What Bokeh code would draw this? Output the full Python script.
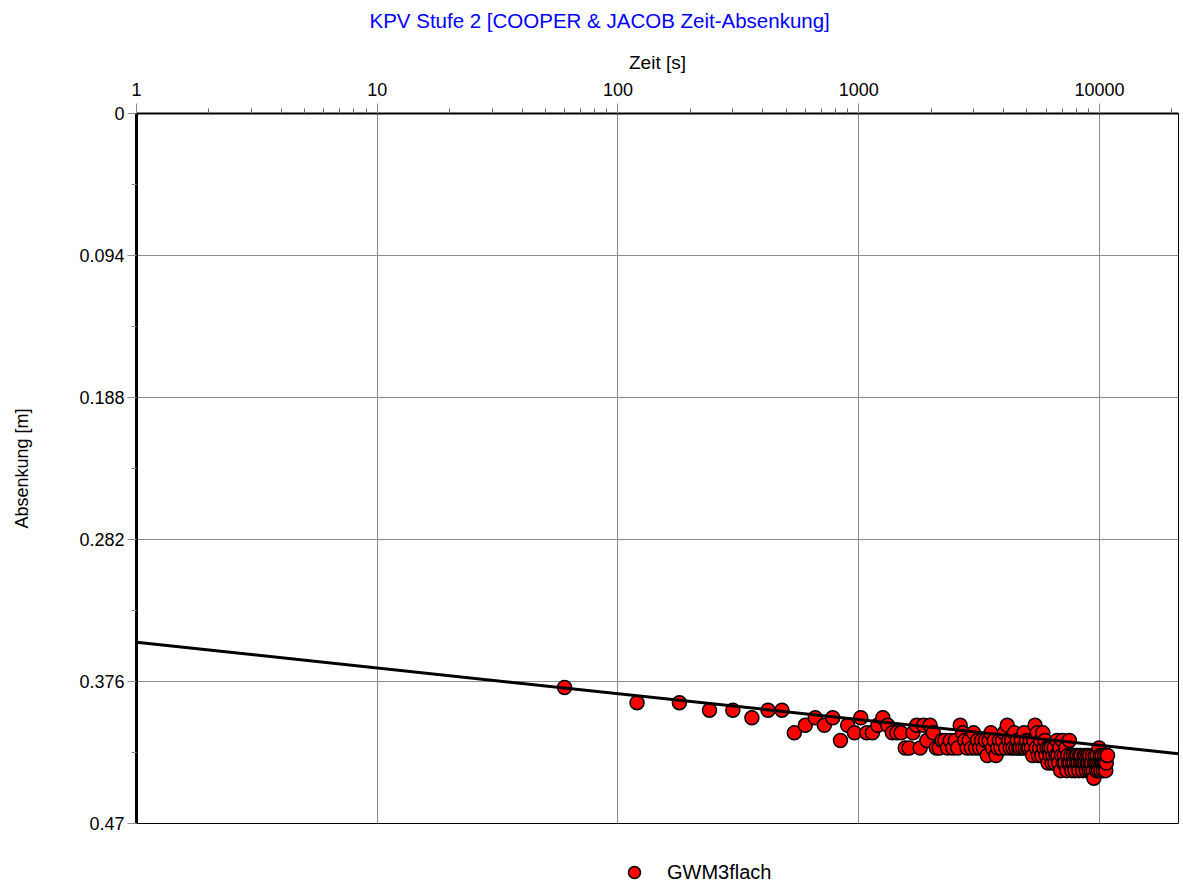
from bokeh.plotting import figure
from bokeh.layouts import column
from bokeh.models import (Range1d, FixedTicker, CustomJSTickFormatter, Legend,
                          LegendItem, Title)
from bokeh.embed import file_html
from bokeh.resources import INLINE

title_text = "KPV Stufe 2 [COOPER & JACOB Zeit-Absenkung]"
x_label = "Zeit [s]"
y_label = "Absenkung [m]"
series_name = "GWM3flach"

# time [s]
zeit = [
    60, 120, 180, 240, 300, 360, 420, 480, 540, 600,
    660, 720, 780, 840, 900, 960, 1020, 1080, 1140, 1200,
    1260, 1320, 1380, 1440, 1500, 1560, 1620, 1680, 1740, 1800,
    1860, 1920, 1980, 2040, 2100, 2160, 2220, 2280, 2340, 2400,
    2460, 2520, 2580, 2640, 2700, 2760, 2820, 2880, 2940, 3000,
    3060, 3120, 3180, 3240, 3300, 3360, 3420, 3480, 3540, 3600,
    3660, 3720, 3780, 3840, 3900, 3960, 4020, 4080, 4140, 4200,
    4260, 4320, 4380, 4440, 4500, 4560, 4620, 4680, 4740, 4800,
    4860, 4920, 4980, 5040, 5100, 5160, 5220, 5280, 5340, 5400,
    5460, 5520, 5580, 5640, 5700, 5760, 5820, 5880, 5940, 6000,
    6060, 6120, 6180, 6240, 6300, 6360, 6420, 6480, 6540, 6600,
    6660, 6720, 6780, 6840, 6900, 6960, 7020, 7080, 7140, 7200,
    7260, 7320, 7380, 7440, 7500, 7560, 7620, 7680, 7740, 7800,
    7860, 7920, 7980, 8040, 8100, 8160, 8220, 8280, 8340, 8400,
    8460, 8520, 8580, 8640, 8700, 8760, 8820, 8880, 8940, 9000,
    9060, 9120, 9180, 9240, 9300, 9360, 9420, 9480, 9540, 9600,
    9660, 9720, 9780, 9840, 9900, 9960, 10020, 10080, 10140, 10200,
    10260, 10320, 10380, 10440, 10500, 10560, 10620, 10680, 10740, 10800,
]

# drawdown [m]
absenkung = [
    0.380, 0.390, 0.390, 0.395, 0.395, 0.400, 0.395, 0.395, 0.410, 0.405,
    0.400, 0.405, 0.400, 0.415, 0.405, 0.410, 0.400, 0.410, 0.410, 0.405,
    0.400, 0.405, 0.410, 0.410, 0.410, 0.420, 0.420, 0.410, 0.405, 0.420,
    0.405, 0.415, 0.405, 0.410, 0.420, 0.420, 0.415, 0.415, 0.420, 0.415,
    0.420, 0.415, 0.420, 0.405, 0.410, 0.415, 0.420, 0.415, 0.420, 0.410,
    0.420, 0.415, 0.420, 0.415, 0.420, 0.415, 0.425, 0.415, 0.410, 0.420,
    0.415, 0.425, 0.420, 0.415, 0.420, 0.415, 0.410, 0.420, 0.405, 0.415,
    0.420, 0.415, 0.420, 0.410, 0.420, 0.415, 0.420, 0.420, 0.415, 0.420,
    0.410, 0.420, 0.415, 0.420, 0.420, 0.415, 0.420, 0.425, 0.415, 0.405,
    0.420, 0.410, 0.425, 0.420, 0.415, 0.425, 0.410, 0.420, 0.415, 0.425,
    0.420, 0.430, 0.420, 0.425, 0.420, 0.430, 0.425, 0.420, 0.430, 0.425,
    0.415, 0.425, 0.430, 0.420, 0.435, 0.425, 0.415, 0.430, 0.425, 0.430,
    0.420, 0.435, 0.425, 0.430, 0.415, 0.430, 0.425, 0.435, 0.430, 0.425,
    0.430, 0.435, 0.425, 0.430, 0.425, 0.430, 0.435, 0.425, 0.430, 0.425,
    0.430, 0.435, 0.430, 0.425, 0.430, 0.425, 0.435, 0.430, 0.425, 0.430,
    0.435, 0.425, 0.430, 0.435, 0.430, 0.425, 0.435, 0.440, 0.430, 0.425,
    0.430, 0.435, 0.425, 0.430, 0.435, 0.420, 0.430, 0.425, 0.435, 0.430,
    0.425, 0.430, 0.435, 0.430, 0.425, 0.430, 0.435, 0.430, 0.425, 0.425,
]

# Cooper & Jacob fit line (end points)
fit_zeit = [1, 21300]
fit_absenkung = [0.350, 0.4238]

x_min, x_max = 1, 21300
y_min, y_max = 0, 0.47

x_ticks = [1, 10, 100, 1000, 10000]
x_minor = [2, 3, 4, 5, 6, 7, 8, 9, 20, 30, 40, 50, 60, 70, 80, 90,
           200, 300, 400, 500, 600, 700, 800, 900,
           2000, 3000, 4000, 5000, 6000, 7000, 8000, 9000, 20000]
y_ticks = [0, 0.094, 0.188, 0.282, 0.376, 0.47]
y_minor = [0.047, 0.141, 0.235, 0.329, 0.423]

FONT = "Liberation Sans"
GRID = "#8c8c8c"

p = figure(width=1183, height=842, x_axis_type="log", x_axis_location="above",
           x_range=Range1d(x_min, x_max), y_range=Range1d(y_max, y_min),
           output_backend="svg", toolbar_location=None,
           min_border_left=136, min_border_top=113, min_border_right=5,
           min_border_bottom=19, background_fill_color="white",
           border_fill_color="white")

p.title.text = title_text
p.title.align = "left"
p.title.offset = 233
p.title.text_color = "#0000ff"
p.title.text_font = FONT
p.title.text_font_size = "20.5px"
p.title.text_font_style = "normal"
p.title.standoff = 12

# small empty spacer between the title and the top axis
p.add_layout(Title(text=" ", text_font_size="6px", standoff=3), "above")

p.outline_line_color = "black"
p.outline_line_width = 1

xa = p.xaxis[0]
xa.ticker = FixedTicker(ticks=x_ticks, minor_ticks=x_minor)
xa.formatter = CustomJSTickFormatter(code="return tick.toFixed(0);")
xa.axis_label = x_label
xa.axis_label_text_font = FONT
xa.axis_label_text_font_size = "19px"
xa.axis_label_text_font_style = "normal"
xa.axis_label_text_color = "black"
xa.axis_label_standoff = 7
xa.major_label_text_font = FONT
xa.major_label_text_font_size = "18px"
xa.major_label_text_color = "black"
xa.major_label_standoff = 8
xa.axis_line_color = "black"
xa.axis_line_width = 2
xa.major_tick_line_color = GRID
xa.major_tick_out = 10
xa.major_tick_in = 0
xa.minor_tick_line_color = "#666666"
xa.minor_tick_out = 5
xa.minor_tick_in = 0

ya = p.yaxis[0]
ya.ticker = FixedTicker(ticks=y_ticks, minor_ticks=y_minor)
ya.formatter = CustomJSTickFormatter(
    code="return tick.toFixed(3).replace(/0+$/, '').replace(/\\.$/, '');")
ya.axis_label = y_label
ya.axis_label_text_font = FONT
ya.axis_label_text_font_size = "18px"
ya.axis_label_text_font_style = "normal"
ya.axis_label_text_color = "black"
ya.axis_label_standoff = 44
ya.major_label_text_font = FONT
ya.major_label_text_font_size = "18px"
ya.major_label_text_color = "black"
ya.major_label_standoff = 3
ya.axis_line_color = "black"
ya.axis_line_width = 3
ya.major_tick_line_color = GRID
ya.major_tick_out = 9
ya.major_tick_in = 0
ya.minor_tick_line_color = GRID
ya.minor_tick_out = 5
ya.minor_tick_in = 0

p.xgrid.grid_line_color = GRID
p.ygrid.grid_line_color = GRID
p.xgrid.grid_line_width = 1
p.ygrid.grid_line_width = 1

p.scatter(zeit, absenkung, size=14, fill_color="#ff0000",
          line_color="black", line_width=1.5)
p.line(fit_zeit, fit_absenkung, line_color="black", line_width=3)

# legend strip below the chart (its key renderer is hidden; only the key shows)
lg = figure(width=1183, height=42, output_backend="svg", toolbar_location=None,
            x_axis_location=None, y_axis_location=None,
            min_border_left=136, min_border_right=5, min_border_top=0,
            min_border_bottom=0, border_fill_color="white",
            background_fill_color="white")
lg.outline_line_color = None
lg.grid.grid_line_color = None
key = lg.scatter(zeit, absenkung, size=14, fill_color="#ff0000",
                 line_color="black", line_width=1.5)
key.visible = False
legend = Legend(items=[LegendItem(label=series_name, renderers=[key])],
                location=(483, -3), orientation="horizontal",
                border_line_color=None, background_fill_alpha=0,
                inactive_fill_alpha=0,
                label_text_font=FONT, label_text_font_size="20px",
                label_text_color="black",
                glyph_width=30, glyph_height=30, padding=0, margin=0,
                label_standoff=18)
lg.add_layout(legend, "center")

layout = column(p, lg, spacing=0)
open("out.html", "w").write(file_html(layout, INLINE))
